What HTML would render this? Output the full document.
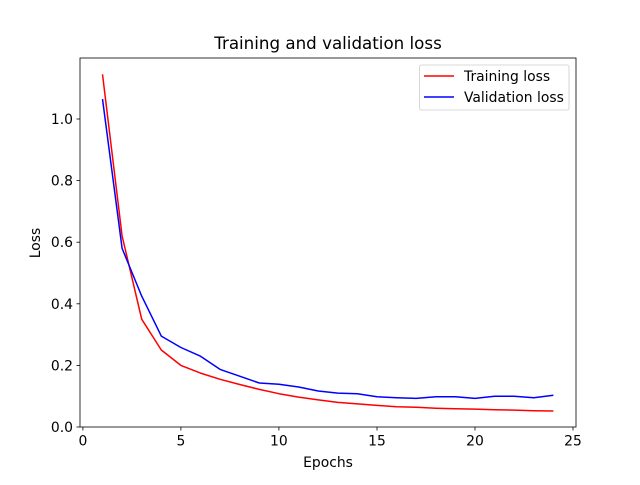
<!DOCTYPE html>
<html><head><meta charset="utf-8"><style>
body{margin:0;background:#fff;width:640px;height:480px;overflow:hidden}
text{font-family:"DejaVu Sans","Liberation Sans",sans-serif;fill:#000}
</style></head><body>
<svg width="640" height="480" viewBox="0 0 640 480" xmlns="http://www.w3.org/2000/svg">
<rect width="640" height="480" fill="#fff"/>
<polyline id="tr" fill="none" stroke="#ff0000" stroke-width="1.5" stroke-linejoin="round"/>
<polyline id="va" fill="none" stroke="#0000ff" stroke-width="1.5" stroke-linejoin="round"/>
<rect x="80" y="58" width="496" height="369" fill="none" stroke="#000" stroke-width="0.8"/>
<g stroke="#000" stroke-width="0.8">
<line x1="82.9" y1="427" x2="82.9" y2="430.5"/><line x1="180.9" y1="427" x2="180.9" y2="430.5"/><line x1="278.9" y1="427" x2="278.9" y2="430.5"/><line x1="377" y1="427" x2="377" y2="430.5"/><line x1="475" y1="427" x2="475" y2="430.5"/><line x1="573" y1="427" x2="573" y2="430.5"/>
<line x1="76.5" y1="427" x2="80" y2="427"/><line x1="76.5" y1="365.4" x2="80" y2="365.4"/><line x1="76.5" y1="303.8" x2="80" y2="303.8"/><line x1="76.5" y1="242.2" x2="80" y2="242.2"/><line x1="76.5" y1="180.6" x2="80" y2="180.6"/><line x1="76.5" y1="119" x2="80" y2="119"/>
</g>
<g font-size="13.9" text-anchor="middle">
<text x="82.9" y="445.5">0</text><text x="180.9" y="445.5">5</text><text x="278.9" y="445.5">10</text><text x="377" y="445.5">15</text><text x="475" y="445.5">20</text><text x="573" y="445.5">25</text>
</g>
<g font-size="13.9" text-anchor="end">
<text x="73" y="432">0.0</text><text x="73" y="370.4">0.2</text><text x="73" y="308.8">0.4</text><text x="73" y="247.2">0.6</text><text x="73" y="185.6">0.8</text><text x="73" y="124">1.0</text>
</g>
<text x="328" y="467" font-size="13.9" text-anchor="middle">Epochs</text>
<text x="40" y="243" font-size="13.9" text-anchor="middle" transform="rotate(-90 40 243)">Loss</text>
<text x="328" y="49" font-size="16.7" text-anchor="middle">Training and validation loss</text>
<rect x="419.5" y="65" width="149.5" height="45" rx="2" fill="#fff" stroke="#ccc" stroke-width="0.8"/>
<line x1="424" y1="76" x2="454" y2="76" stroke="#ff0000" stroke-width="1.5"/>
<line x1="424" y1="97" x2="454" y2="97" stroke="#0000ff" stroke-width="1.5"/>
<text x="464" y="81" font-size="13.9">Training loss</text>
<text x="464" y="102" font-size="13.9">Validation loss</text>
</svg>
<script>
var t=[1.145,0.62,0.35,0.25,0.2,0.175,0.155,0.138,0.122,0.108,0.097,0.088,0.08,0.075,0.07,0.066,0.064,0.061,0.059,0.058,0.056,0.055,0.053,0.052];
var v=[1.065,0.58,0.425,0.295,0.258,0.23,0.187,0.165,0.143,0.139,0.13,0.117,0.11,0.108,0.098,0.095,0.093,0.098,0.098,0.093,0.1,0.1,0.095,0.103];
function pts(a){return a.map(function(y,i){return (82.9+(i+1)*19.605).toFixed(1)+","+(427-y*308).toFixed(1)}).join(" ");}
document.getElementById("tr").setAttribute("points",pts(t));
document.getElementById("va").setAttribute("points",pts(v));
</script>
</body></html>
